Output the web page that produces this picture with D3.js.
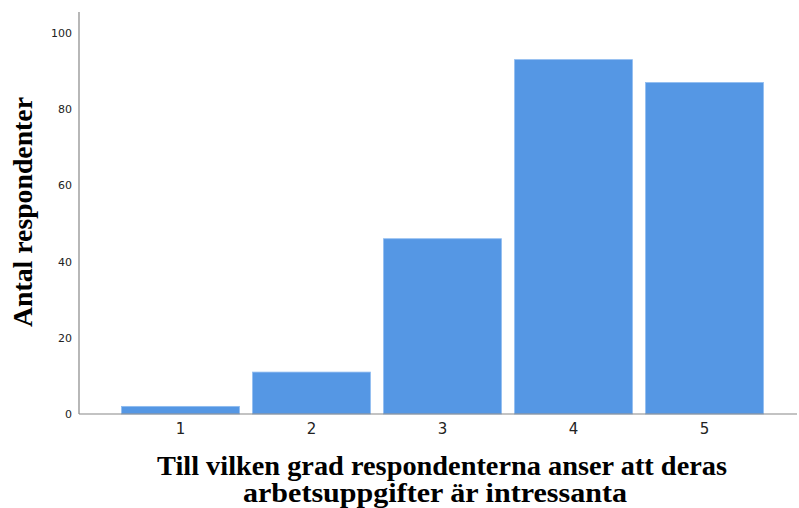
<!DOCTYPE html>
<html>
<head>
<meta charset="utf-8">
<script src="https://cdn.jsdelivr.net/npm/d3@7"></script>
<style>
  body { margin: 0; background: #fff; }
  svg { display: block; }
</style>
</head>
<body>
<div id="container"></div>
<script>
/* data */
const categories = ["1", "2", "3", "4", "5"];
const counts = [2, 11, 46, 93, 87];
const yTicks = [0, 20, 40, 60, 80, 100];

const width = 799;
const height = 508;
const axisLeft = 79;     /* y axis position */
const axisRight = 797;   /* end of x axis line */
const baseY = 414;       /* baseline */
const topY = 12;

const data = categories.map((c, i) => ({ cat: c, count: counts[i] }));

const svg = d3.select("#container")
  .append("svg")
  .attr("width", width)
  .attr("height", height);

/* SCALES */
const xScale = d3.scaleBand()
  .domain(categories)
  .range([115, 770])
  .paddingInner(0.1)
  .paddingOuter(0.05);

const yScale = d3.scaleLinear()
  .domain([0, 105.5])
  .range([baseY, topY]);

/* BARS */
svg.selectAll(".bar")
  .data(data)
  .join("rect")
  .attr("class", "bar")
  .attr("x", d => xScale(d.cat))
  .attr("y", d => yScale(d.count))
  .attr("width", xScale.bandwidth())
  .attr("height", d => yScale(0) - yScale(d.count))
  .attr("fill", "#5597e4")
  .attr("stroke", "#8fbcf0")
  .attr("stroke-width", 0.8);

/* AXES */
const yAxis = d3.axisLeft(yScale).tickValues(yTicks).tickSize(0).tickPadding(7);
const gy = svg.append("g")
  .attr("transform", `translate(${axisLeft},0)`)
  .call(yAxis);
gy.select(".domain").remove();
gy.selectAll("text")
  .attr("font-family", "'DejaVu Sans', sans-serif")
  .attr("font-size", 11)
  .attr("fill", "#222");

svg.append("line")
  .attr("x1", axisLeft).attr("x2", axisLeft)
  .attr("y1", yScale.range()[1]).attr("y2", baseY)
  .attr("stroke", "#888").attr("stroke-width", 1.2);

const xAxis = d3.axisBottom(xScale).tickSize(0).tickPadding(9);
const gx = svg.append("g")
  .attr("transform", `translate(0,${baseY})`)
  .call(xAxis);
gx.select(".domain").remove();
gx.selectAll("text")
  .attr("font-family", "'DejaVu Sans', sans-serif")
  .attr("font-size", 15)
  .attr("fill", "#222");

svg.append("line")
  .attr("x1", axisLeft).attr("x2", axisRight)
  .attr("y1", baseY).attr("y2", baseY)
  .attr("stroke", "#888").attr("stroke-width", 1.2);

/* TITLES */
svg.append("text")
  .attr("transform", "translate(32,212) rotate(-90)")
  .attr("text-anchor", "middle")
  .attr("font-family", "'Liberation Serif', serif")
  .attr("font-weight", "bold")
  .attr("font-size", 27)
  .attr("textLength", 230)
  .attr("lengthAdjust", "spacingAndGlyphs")
  .text("Antal respondenter");

const titleFont = sel => sel
  .attr("text-anchor", "middle")
  .attr("font-family", "'Liberation Serif', serif")
  .attr("font-weight", "bold")
  .attr("font-size", 27)
  .attr("lengthAdjust", "spacingAndGlyphs");

svg.append("text").call(titleFont)
  .attr("x", 442).attr("y", 475)
  .attr("textLength", 570)
  .text("Till vilken grad respondenterna anser att deras");
svg.append("text").call(titleFont)
  .attr("x", 435).attr("y", 502)
  .attr("textLength", 384)
  .text("arbetsuppgifter är intressanta");
</script>
</body>
</html>
